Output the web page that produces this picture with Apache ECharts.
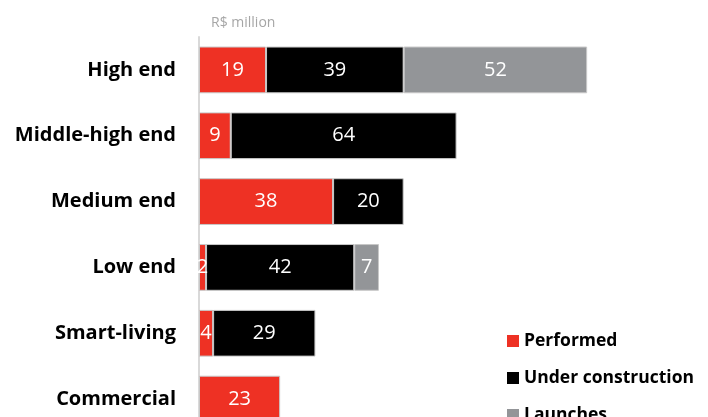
<!DOCTYPE html>
<html><head><meta charset="utf-8">
<script src="https://cdn.jsdelivr.net/npm/echarts@6/dist/echarts.min.js"></script>
<style>html,body{margin:0;padding:0;background:#fff}#c{width:708px;height:417px}</style>
</head><body><div id="c"></div>
<script>
var categories = ['High end','Middle-high end','Medium end','Low end','Smart-living','Commercial'];
var performed = [19, 9, 38, 2, 4, 23];
var underConstruction = [39, 64, 20, 42, 29, null];
var launches = [52, null, null, 7, null, null];
var seriesNames = ['Performed','Under construction','Launches'];
var colors = ['#EE3124','#000000','#939598'];

var chart = echarts.init(document.getElementById('c'));
function mk(i, data){
  return {
    name: seriesNames[i], type:'bar', stack:'s', data:data, barWidth:'71%',
    itemStyle:{color:colors[i], borderColor:'#c8c8c8', borderWidth:1},
    label:{show:true, position:'inside', color:'#fff', fontFamily:'Open Sans', fontSize:20,
      formatter:function(p){return p.value==null?'':p.value;}}
  };
}
function lg(i){
  return {orient:'horizontal', left:502, top:327 + i*37, itemWidth:12, itemHeight:12, icon:'rect',
    itemStyle:{borderWidth:0}, selectedMode:false,
    textStyle:{color:'#000', fontWeight:'bold', fontSize:17.5, fontFamily:'Open Sans'},
    data:[seriesNames[i]]};
}
chart.setOption({
  animation:false,
  textStyle:{fontFamily:'Open Sans'},
  title:{text:'R$ million', left:206, top:11, textStyle:{color:'#a6a6a6', fontSize:14, fontWeight:'normal', fontFamily:'Open Sans'}},
  grid:{left:199, width:494, top:37, height:395, containLabel:false, outerBoundsMode:'none'},
  xAxis:{type:'value', min:0, max:140, show:false},
  yAxis:{type:'category', data:categories, inverse:true,
    axisLine:{show:true, lineStyle:{color:'#d9d9d9', width:2}},
    axisTick:{show:false},
    axisLabel:{margin:23, color:'#000', fontWeight:'bold', fontSize:20, fontFamily:'Open Sans'}},
  legend:[lg(0), lg(1), lg(2)],
  series:[mk(0,performed), mk(1,underConstruction), mk(2,launches)]
});
</script></body></html>
